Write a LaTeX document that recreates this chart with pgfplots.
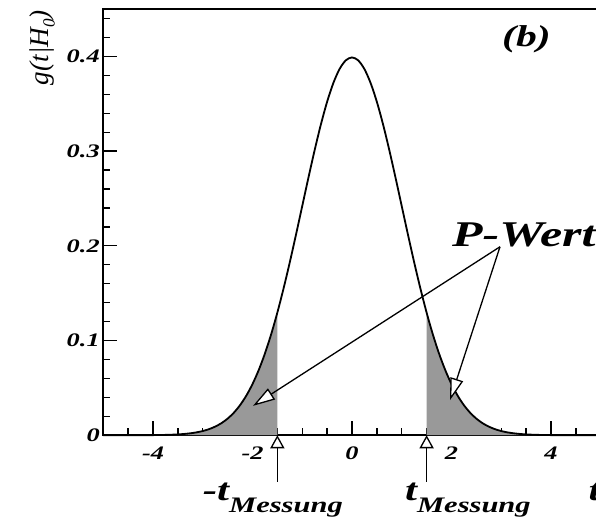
\documentclass[border=0pt]{standalone}
\usepackage{pgfplots}
\pgfplotsset{compat=1.18}
\usepackage{pgfplotstable}
\usepackage{fontspec}
\setmainfont{Liberation Serif}[FakeStretch=1.38]
\newfontfamily\labelfont{Liberation Serif}
\usetikzlibrary{arrows.meta}
\definecolor{tailgray}{HTML}{999999}

% standard normal density g(t|H0), read at steps of 0.125
\pgfplotstableread{
x y
-5 0.0000015
-4.5 0.000016
-4 0.000134
-3.75 0.000353
-3.625 0.000559
-3.5 0.000873
-3.375 0.001341
-3.25 0.002029
-3.125 0.003022
-3 0.004432
-2.875 0.006398
-2.75 0.009094
-2.625 0.012724
-2.5 0.017528
-2.375 0.023772
-2.25 0.031740
-2.125 0.041721
-2 0.053991
-1.875 0.068786
-1.75 0.086277
-1.625 0.106538
-1.5 0.129518
-1.375 0.155012
-1.25 0.182649
-1.125 0.211877
-1 0.241971
-0.875 0.272055
-0.75 0.301137
-0.625 0.328161
-0.5 0.352065
-0.375 0.371855
-0.25 0.386668
-0.125 0.395838
0 0.398942
0.125 0.395838
0.25 0.386668
0.375 0.371855
0.5 0.352065
0.625 0.328161
0.75 0.301137
0.875 0.272055
1 0.241971
1.125 0.211877
1.25 0.182649
1.375 0.155012
1.5 0.129518
1.625 0.106538
1.75 0.086277
1.875 0.068786
2 0.053991
2.125 0.041721
2.25 0.031740
2.375 0.023772
2.5 0.017528
2.625 0.012724
2.75 0.009094
2.875 0.006398
3 0.004432
3.125 0.003022
3.25 0.002029
3.375 0.001341
3.5 0.000873
3.625 0.000559
3.75 0.000353
4 0.000134
4.5 0.000016
5 0.0000015
}\gaussdata

\pgfplotstableread{
x y
-5 0.0000015
-4.5 0.000016
-4 0.000134
-3.75 0.000353
-3.625 0.000559
-3.5 0.000873
-3.375 0.001341
-3.25 0.002029
-3.125 0.003022
-3 0.004432
-2.875 0.006398
-2.75 0.009094
-2.625 0.012724
-2.5 0.017528
-2.375 0.023772
-2.25 0.031740
-2.125 0.041721
-2 0.053991
-1.875 0.068786
-1.75 0.086277
-1.625 0.106538
-1.5 0.129518
}\lefttail

\pgfplotstableread{
x y
1.5 0.129518
1.625 0.106538
1.75 0.086277
1.875 0.068786
2 0.053991
2.125 0.041721
2.25 0.031740
2.375 0.023772
2.5 0.017528
2.625 0.012724
2.75 0.009094
2.875 0.006398
3 0.004432
3.125 0.003022
3.25 0.002029
3.375 0.001341
3.5 0.000873
3.625 0.000559
3.75 0.000353
4 0.000134
4.5 0.000016
5 0.0000015
}\righttail

\tikzset{
  pwert/.style={-{Triangle[length=22pt,width=13pt,fill=white]}, line width=1.3pt},
  tmess/.style={-{Triangle[length=13pt,width=14pt,fill=white]}, line width=1.3pt},
}

\begin{document}
\begin{tikzpicture}
\begin{axis}[
    scale only axis, width=495pt, height=424pt,
    xmin=-5, xmax=5, ymin=0, ymax=0.45,
    xtick={-4,-2,0,2,4}, ytick={0,0.1,0.2,0.3,0.4},
    minor xtick={-4.5,-4,...,4.5},
    minor ytick={0.02,0.04,...,0.44},
    tick pos=left, tick align=inside,
    major tick length=14pt, minor tick length=7pt,
    every tick/.style={line width=1.3pt, black},
    axis line style={line width=1.6pt},
    /pgf/number format/assume math mode=true,
    ticklabel style={font=\fontsize{19}{22}\selectfont\bfseries\itshape},
    xticklabel style={yshift=-8pt},
    clip=false,
  ]
  \addplot[draw=none, fill=tailgray, smooth] table {\lefttail} \closedcycle;
  \addplot[draw=none, fill=tailgray, smooth] table {\righttail} \closedcycle;
  \addplot[black, line width=1.8pt, smooth] table {\gaussdata};

  \draw[pwert] (axis cs:2.975,0.199) -- (axis cs:-1.99,0.031);
  \draw[pwert] (axis cs:2.975,0.199) -- (axis cs:1.97,0.037);
  \draw[tmess] (axis cs:-1.5,-0.049) -- (axis cs:-1.5,0);
  \draw[tmess] (axis cs:1.5,-0.049) -- (axis cs:1.5,0);

  \node[anchor=base west, inner sep=0pt, font=\fontsize{36}{42}\selectfont\bfseries\itshape]
    at (axis cs:2.01,0.199) {P-Wert};
  \node[anchor=base west, inner sep=0pt, font=\fontsize{30}{36}\selectfont\bfseries\itshape]
    at (axis cs:3.015,0.411) {(b)};
  \node[anchor=base west, inner sep=0pt, font=\fontsize{31}{36}\selectfont\bfseries\itshape]
    at (axis cs:-3.0,-0.069) {-t\lower12pt\hbox{\fontsize{22}{26}\selectfont Messung}};
  \node[anchor=base west, inner sep=0pt, font=\fontsize{31}{36}\selectfont\bfseries\itshape]
    at (axis cs:1.065,-0.069) {t\lower12pt\hbox{\fontsize{22}{26}\selectfont Messung}};
  \node[anchor=base east, inner sep=0pt, font=\fontsize{31}{36}\selectfont\bfseries\itshape]
    at (axis cs:5,-0.069) {t};
  \node[rotate=90, anchor=base east, inner sep=0pt, font=\labelfont\fontsize{27}{31}\selectfont\itshape]
    at (axis cs:-6.1,0.449) {g(t|H\lower6pt\hbox{\fontsize{17}{19}\selectfont 0})};

  \coordinate (bl) at (axis cs:-7.075,-0.0862);
  \coordinate (tr) at (axis cs:4.905,0.4596);
\end{axis}
\pgfresetboundingbox
\path[use as bounding box] (bl) rectangle (tr);
\end{tikzpicture}
\end{document}
